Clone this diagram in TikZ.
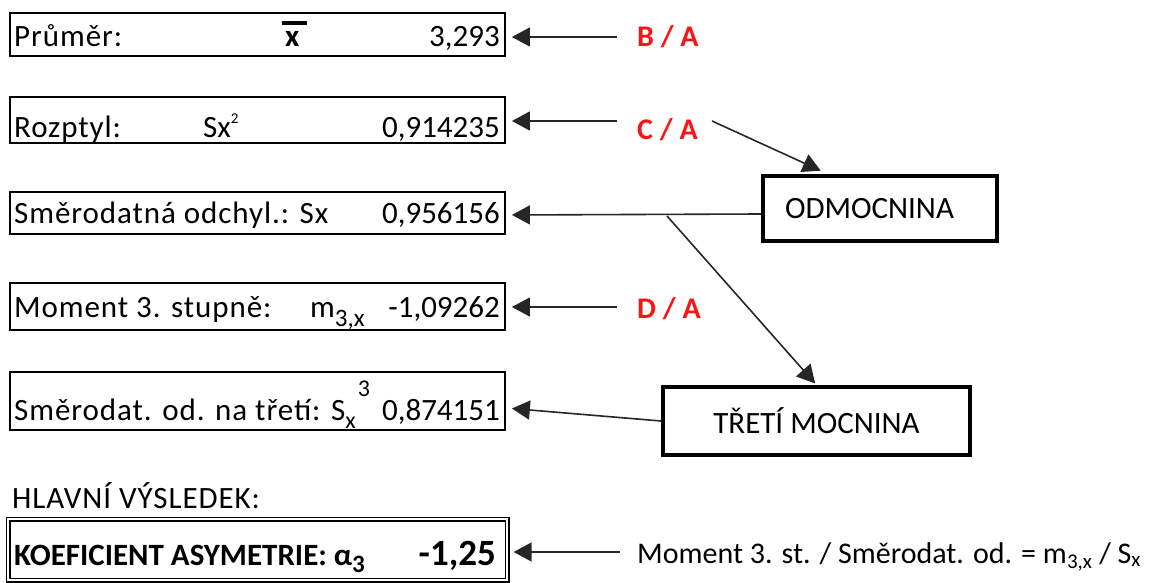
\documentclass[tikz,border=0pt]{standalone}
\usepackage{fontspec}
\setmainfont{Carlito}
\newfontfamily\siroky{Carlito}[LetterSpace=3]
\usetikzlibrary{positioning}
\usetikzlibrary{arrows.meta}
\definecolor{cervena}{RGB}{250,20,20}
\tikzset{
    rowbox/.style = {rectangle, draw=black, line width=1.8pt, minimum width=495pt, inner sep=0pt},
    resbox/.style = {rectangle, draw=black, double, line width=1.2pt, double distance=2.6pt, minimum width=499pt, inner sep=0pt},
    opbox/.style = {rectangle, draw=black, line width=4pt, inner sep=0pt},
    txt/.style = {inner sep=0pt, anchor=base west},
    lbl/.style = {txt, font=\fontsize{31}{36}\siroky},
    val/.style = {inner sep=0pt, anchor=base east},
    podil/.style = {inner sep=0pt, anchor=base west, text=cervena, font=\fontsize{30}{36}\selectfont\bfseries},
    edgen/.style = {-{Triangle[length=18pt,width=19pt]}, line width=1.6pt, draw=black!85, shorten >=6pt},
}

\begin{document}
\begin{tikzpicture}[x=1pt,y=-1pt,font=\fontsize{31}{36}\selectfont]
\useasboundingbox (0,0) rectangle (1163,583);
% rows with values
\node[rowbox, minimum height=43pt] at (257.5,34.5) (prumer) {};
\node[lbl] at (14,47) (prumerT) {Průměr:};
\node[txt] at (285,47) (xbar) {\bfseries\rlap{\hspace*{-3pt}\raisebox{22pt}{\rule{25pt}{3.5pt}}}x};
\node[val] at (500,47) (prumerV) {3,293};
%
\node[rowbox, minimum height=46pt] at (257.5,120) (rozptyl) {};
\node[lbl] at (14,138) (rozptylT) {Rozptyl:};
\node[txt] at (203,138) (sx2) {Sx\raisebox{14pt}{\fontsize{15}{15}\selectfont 2}};
\node[val] at (500,138) (rozptylV) {0,914235};
%
\node[rowbox, minimum height=42pt] at (257.5,213) (smerod) {};
\node[lbl] at (14,223) (smerodT) {Směrodatná odchyl.: Sx};
\node[val] at (500,223) (smerodV) {0,956156};
%
\node[rowbox, minimum height=47pt] at (257.5,306.5) (moment) {};
\node[lbl] at (14,317) (momentT) {Moment 3. stupně:};
\node[txt] at (310,317) (m3x) {m\raisebox{-9pt}{\fontsize{25}{25}\selectfont 3,x}};
\node[val] at (500,317) (momentV) {-1,09262};
%
\node[rowbox, minimum height=58pt] at (257.5,401) (smertreti) {};
\node[lbl] at (14,420) (smertretiT) {Směrodat. od. na třetí: S\raisebox{-8pt}{\fontsize{24}{24}\selectfont x}\raisebox{24pt}{\fontsize{24}{24}\selectfont\hspace{2pt}3}};
\node[val] at (500,420) (smertretiV) {0,874151};
%
\node[lbl] at (12,508) (hlavni) {HLAVNÍ VÝSLEDEK:};
\node[resbox, minimum height=61pt] at (257.5,549.5) (koef) {};
\node[txt] at (14,565) (koefT) {\bfseries KOEFICIENT ASYMETRIE: α\raisebox{-7pt}{\fontsize{25}{25}\selectfont 3}};
\node[val] at (496,565) (koefV) {\fontsize{37}{40}\selectfont\bfseries -1,25};
%
% operations
\node[opbox, text width=190pt, inner xsep=22pt, minimum height=65pt, align=left] at (880,208.5) (odmoc) {ODMOCNINA};
\node[opbox, minimum width=307pt, minimum height=68pt] at (816.5,421) (treti) {TŘETÍ MOCNINA};
%
\node[podil] at (637,47) (ba) {B / A};
\node[podil] at (637,140) (ca) {C / A};
\node[podil] at (637,318) (da) {D / A};
\node[txt, font=\fontsize{30}{36}\selectfont] at (637,563) (vzorec) {Moment 3. st. / Směrodat. od. = m\textsubscript{3,x} / S\textsubscript{x}};
%
\coordinate (baS) at (617,37);
\coordinate (caS) at (617,121);
\coordinate (caO) at (712,121);
\coordinate (daS) at (617,307);
\coordinate (vzS) at (620,552);
\coordinate (vetev) at (667,216);
%
\draw[edgen] (baS) -- (baS -| prumer.east);
\draw[edgen] (caS) -- (caS -| rozptyl.east);
\draw[edgen] (daS) -- (daS -| moment.east);
\draw[edgen] (vzS) -- (vzS -| koef.east);
\draw[edgen, shorten >=8pt] (caO) -- ([xshift=67pt]odmoc.north west);
\draw[edgen] ([yshift=-5.5pt]odmoc.west) -- ([yshift=-2pt]smerod.east);
\draw[edgen, shorten >=2pt] (vetev) -- (treti.north);
\draw[edgen] (treti.west) -- ([yshift=-7pt]smertreti.east);

\end{tikzpicture}
\end{document}
